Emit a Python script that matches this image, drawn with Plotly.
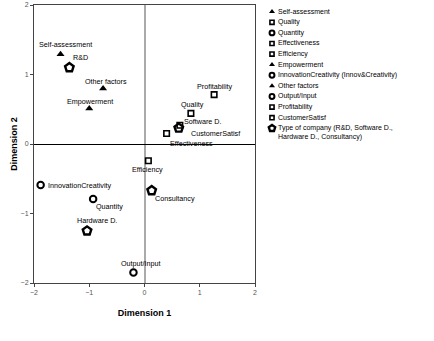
import plotly.graph_objects as go

# ---------------- data ----------------
variables = ["Self-assessment", "Quality", "Quantity", "Effectiveness", "Efficiency",
             "Empowerment", "InnovationCreativity", "Other factors", "Output/Input",
             "Profitability", "CustomerSatisf"]
var_dim1 = [-1.52, 0.84, -0.93, 0.40, 0.07, -1.00, -1.88, -0.75, -0.20, 1.26, 0.64]
var_dim2 = [1.29, 0.44, -0.79, 0.15, -0.24, 0.51, -0.59, 0.80, -1.85, 0.71, 0.27]

companies = ["R&D", "Software D.", "Hardware D.", "Consultancy"]
comp_dim1 = [-1.36, 0.62, -1.04, 0.13]
comp_dim2 = [1.10, 0.23, -1.25, -0.67]

legend_labels = ["Self-assessment", "Quality", "Quantity", "Effectiveness", "Efficiency",
                 "Empowerment", "InnovationCreativity (Innov&Creativity)", "Other factors",
                 "Output/Input", "Profitability", "CustomerSatisf",
                 "Type of company (R&D, Software D.,<br>Hardware D., Consultancy)"]

tick_vals = [-2, -1, 0, 1, 2]

# ---------------- styles ----------------
FONT = "Liberation Sans, Arial, sans-serif"
var_kind = ["tri", "sq", "circ", "sq", "sq", "tri", "circ", "tri", "circ", "sq", "sq"]
# label offsets in pixels (dx right, dy down) and anchors
var_label_off = [(5, -10), (2, -9), (16, 8), (25, 9.6), (-1, 8.6), (1, -7),
                 (5, 0), (3, -6.6), (8, -9), (1, -8), (35.6, 8.4)]
var_label_anchor = ["center", "center", "center", "center", "center", "center",
                    "left", "center", "center", "center", "center"]
comp_label_off = [(11, -10), (24, -6.6), (9.7, -10), (23.6, 7.6)]

def marker_style(kind, scale=1.0):
    if kind == "tri":
        return dict(symbol="triangle-up", size=7 * scale, color="black",
                    line=dict(width=0))
    if kind == "sq":
        return dict(symbol="square-open", size=5.5 * scale, color="black",
                    line=dict(width=1.6))
    if kind == "circ":
        return dict(symbol="circle-open", size=6.5 * scale, color="black",
                    line=dict(width=2))
    return dict(symbol="pentagon-open", size=9 * scale, color="black",
                line=dict(width=2.4))

LABEL_FONT = dict(family=FONT, size=7.2, color="black")

fig = go.Figure()

for name, x, y, k in zip(variables, var_dim1, var_dim2, var_kind):
    fig.add_trace(go.Scatter(
        x=[x], y=[y], mode="markers", name=name, marker=marker_style(k),
        showlegend=False, hoverinfo="name", cliponaxis=False))

fig.add_trace(go.Scatter(
    x=comp_dim1, y=comp_dim2, mode="markers", text=companies,
    marker=marker_style("pent"), showlegend=False, hoverinfo="text",
    cliponaxis=False))

for name, x, y, (dx, dy), anc in zip(variables, var_dim1, var_dim2,
                                     var_label_off, var_label_anchor):
    fig.add_annotation(x=x, y=y, xref="x", yref="y", text=name, showarrow=False,
                       xanchor=anc, yanchor="middle", xshift=dx, yshift=-dy,
                       font=LABEL_FONT)
for name, x, y, (dx, dy) in zip(companies, comp_dim1, comp_dim2, comp_label_off):
    fig.add_annotation(x=x, y=y, xref="x", yref="y", text=name, showarrow=False,
                       xanchor="center", yanchor="middle", xshift=dx, yshift=-dy,
                       font=LABEL_FONT)

# ------------- manual legend on auxiliary axes -------------
leg_kinds = var_kind + ["pent"]
rows = list(range(len(legend_labels)))
for r, k in zip(rows, leg_kinds):
    fig.add_trace(go.Scatter(
        x=[272], y=[r], mode="markers", marker=marker_style(k, 0.75),
        xaxis="x2", yaxis="y2", showlegend=False, hoverinfo="skip", cliponaxis=False))
for r, lab in zip(rows, legend_labels):
    fig.add_annotation(x=276, y=r, xref="x2", yref="y2", text=lab, showarrow=False,
                       xanchor="left", yanchor="top", yshift=6, align="left",
                       font=dict(family=FONT, size=7, color="black"))

W, H = 434, 341
ml, mr, mt, mb = 34, 4, 5, 58
pw = W - ml - mr
main_right = (255 - ml) / pw
leg_left = (265 - ml) / pw

axis_common = dict(range=[-2, 2], tickvals=tick_vals, showgrid=False,
                   showline=True, mirror=True, linecolor="#444", linewidth=1,
                   ticks="outside", ticklen=3, tickcolor="#444", automargin=False,
                   tickfont=dict(family=FONT, size=7, color="#555"))

fig.update_layout(
    width=W, height=H, margin=dict(l=ml, r=mr, t=mt, b=mb, autoexpand=False),
    paper_bgcolor="white", plot_bgcolor="white",
    xaxis=dict(domain=[0, main_right], zeroline=True, zerolinecolor="#aaa",
               zerolinewidth=2,
               title=dict(text="<b>Dimension 1</b>", standoff=14,
                          font=dict(family=FONT, size=9, color="black")),
               **axis_common),
    yaxis=dict(domain=[0, 1], zeroline=True, zerolinecolor="black",
               zerolinewidth=1,
               title=dict(text="<b>Dimension 2</b>", standoff=1,
                          font=dict(family=FONT, size=9, color="black")),
               **axis_common),
    xaxis2=dict(domain=[leg_left, 1], range=[265, 430], visible=False,
                anchor="y2"),
    yaxis2=dict(domain=[0, 1], range=[25.6, -0.632], visible=False,
                anchor="x2"),
    showlegend=False,
)

fig.write_html("out.html", config={"displayModeBar": False},
               post_script="document.body.style.margin='0';document.body.style.overflow='hidden';")
